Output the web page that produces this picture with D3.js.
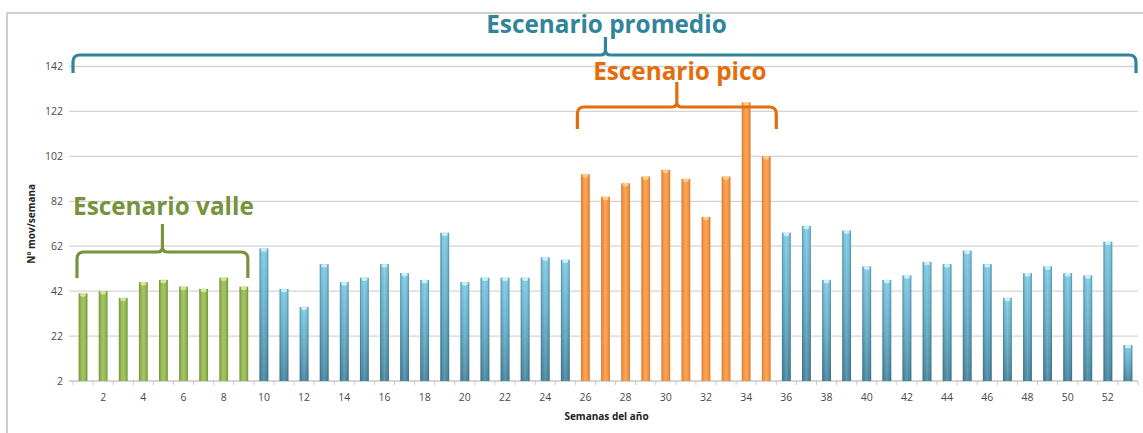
<!DOCTYPE html>
<html>
<head>
<meta charset="utf-8">
<script src="https://cdn.jsdelivr.net/npm/d3@7/dist/d3.min.js"></script>
<style>
  html, body { margin: 0; padding: 0; background: #ffffff; }
  svg { display: block; }
</style>
</head>
<body>
<svg id="chart" width="1143" height="433"></svg>
<script>
// Weekly movements per week of the year
const weeks = d3.range(1, 54);
const movements = [
  41, 42, 39, 46, 47, 44, 43, 48, 44, 61,
  43, 35, 54, 46, 48, 54, 50, 47, 68, 46,
  48, 48, 48, 57, 56, 94, 84, 90, 93, 96,
  92, 75, 93, 126, 102, 68, 71, 47, 69, 53,
  47, 49, 55, 54, 60, 54, 39, 50, 53, 50,
  49, 64, 18
];
const yTicks = [2, 22, 42, 62, 82, 102, 122, 142];
const xTickLabels = d3.range(2, 53, 2);

// Scenario groupings (first week, last week)
const valleWeeks = [1, 9];
const picoWeeks = [26, 35];
const promedioWeeks = [1, 53];

const scenarioOf = w =>
  (w >= valleWeeks[0] && w <= valleWeeks[1]) ? "valle" :
  (w >= picoWeeks[0] && w <= picoWeeks[1]) ? "pico" : "promedio";

const svg = d3.select("#chart");
const plot = { left: 73, right: 1138, top: 66.5, bottom: 381 };

// frame around the chart
svg.append("rect")
  .attr("x", 7).attr("y", 13)
  .attr("width", 1160).attr("height", 440)
  .attr("fill", "#ffffff")
  .attr("stroke", "#c4c4c4").attr("stroke-width", 1.6);

const x = d3.scaleBand()
  .domain(weeks)
  .range([plot.left, plot.right])
  .paddingInner(0.56)
  .paddingOuter(0.28);

const y = d3.scaleLinear()
  .domain([2, 142])
  .range([plot.bottom, plot.top]);

const step = x.step();
const bw = x.bandwidth();
const bandStart = w => x(w) - (step - bw) / 2;

// gradients
const defs = svg.append("defs");
function grad(id, vertical, stops) {
  const g = defs.append("linearGradient").attr("id", id)
    .attr("x1", "0%").attr("y1", "0%")
    .attr("x2", vertical ? "0%" : "100%").attr("y2", vertical ? "100%" : "0%");
  stops.forEach(s => g.append("stop")
    .attr("offset", s[0]).attr("stop-color", s[1])
    .attr("stop-opacity", s[2] === undefined ? 1 : s[2]));
}
grad("g-valle", false, [["0%", "#74923a"], ["25%", "#94b853"], ["50%", "#a4c566"], ["75%", "#94b853"], ["100%", "#74923a"]]);
grad("g-pico", false, [["0%", "#cf7b3c"], ["22%", "#f6923f"], ["50%", "#fba75c"], ["78%", "#f6923f"], ["100%", "#cf7b3c"]]);
grad("g-promedio", true, [["0%", "#82cde6"], ["45%", "#6bb3cd"], ["100%", "#4b8aa1"]]);
grad("g-shade", false, [["0%", "#1d3c4a", 0.4], ["22%", "#1d3c4a", 0.04], ["50%", "#ffffff", 0.12], ["78%", "#1d3c4a", 0.04], ["100%", "#1d3c4a", 0.4]]);

const capColor = { valle: "#d6eba0", pico: "#ffd38a", promedio: "#d2f3fc" };

// gridlines
svg.append("g")
  .selectAll("line")
  .data(yTicks)
  .join("line")
  .attr("x1", plot.left - 4).attr("x2", plot.right)
  .attr("y1", d => y(d)).attr("y2", d => y(d))
  .attr("stroke", d => d === 2 ? "#c8c8c8" : "#d4d4d4")
  .attr("stroke-width", 1.3);

// y axis labels
const yAxis = d3.axisLeft(y).tickValues(yTicks).tickSize(0).tickPadding(10);
svg.append("g")
  .attr("transform", `translate(${plot.left},0)`)
  .call(yAxis)
  .call(g => g.select(".domain").remove())
  .call(g => g.selectAll("text")
    .attr("font-family", "'Open Sans', sans-serif")
    .attr("font-size", 10.5)
    .attr("fill", "#4a4a4a"));

// x axis: tick marks at week boundaries, labels at even weeks
const xg = svg.append("g");
xg.selectAll("line.tick")
  .data(d3.range(0, weeks.length + 1))
  .join("line")
  .attr("class", "tick")
  .attr("x1", i => plot.left + i * step).attr("x2", i => plot.left + i * step)
  .attr("y1", plot.bottom).attr("y2", plot.bottom + 4)
  .attr("stroke", "#c8c8c8").attr("stroke-width", 1);
xg.selectAll("text")
  .data(xTickLabels)
  .join("text")
  .attr("x", d => x(d) + bw / 2)
  .attr("y", plot.bottom + 20)
  .attr("text-anchor", "middle")
  .attr("font-family", "'Open Sans', sans-serif")
  .attr("font-size", 10.5)
  .attr("fill", "#4a4a4a")
  .text(d => d);

// bars
const data = weeks.map((w, i) => ({ week: w, value: movements[i], scen: scenarioOf(w) }));
const bars = svg.append("g");
bars.selectAll("rect.bar")
  .data(data)
  .join("rect")
  .attr("class", "bar")
  .attr("x", d => x(d.week))
  .attr("y", d => y(d.value))
  .attr("width", bw)
  .attr("height", d => y(2) - y(d.value))
  .attr("fill", d => `url(#g-${d.scen})`);
bars.selectAll("rect.shade")
  .data(data.filter(d => d.scen === "promedio"))
  .join("rect")
  .attr("class", "shade")
  .attr("x", d => x(d.week))
  .attr("y", d => y(d.value))
  .attr("width", bw)
  .attr("height", d => y(2) - y(d.value))
  .attr("fill", "url(#g-shade)");
bars.selectAll("ellipse")
  .data(data)
  .join("ellipse")
  .attr("cx", d => x(d.week) + bw / 2)
  .attr("cy", d => y(d.value) + 1.5)
  .attr("rx", bw / 2 - 1.5)
  .attr("ry", 1.8)
  .attr("fill", d => capColor[d.scen])
  .attr("opacity", 0.9);

// axis titles
svg.append("text")
  .attr("x", (plot.left + plot.right) / 2 + 1)
  .attr("y", 420)
  .attr("text-anchor", "middle")
  .attr("font-family", "'Open Sans', sans-serif")
  .attr("font-weight", "bold")
  .attr("font-size", 10)
  .attr("fill", "#222")
  .text("Semanas del año");

svg.append("text")
  .attr("transform", `translate(35, ${y(72)}) rotate(-90)`)
  .attr("text-anchor", "middle")
  .attr("font-family", "'Open Sans', sans-serif")
  .attr("font-weight", "bold")
  .attr("font-size", 10)
  .attr("fill", "#222")
  .text("Nº mov/semana");

// curly-bracket annotations
function brace(x1, x2, xc, yLine, yEnd, yTip, color) {
  const r = 7;
  const p = d3.path();
  p.moveTo(x1, yEnd);
  p.lineTo(x1, yLine + r);
  p.quadraticCurveTo(x1, yLine, x1 + r, yLine);
  p.lineTo(xc - 5, yLine);
  p.quadraticCurveTo(xc, yLine, xc, yLine - 5);
  p.lineTo(xc, yTip);
  p.moveTo(xc, yLine - 5);
  p.quadraticCurveTo(xc, yLine, xc + 5, yLine);
  p.lineTo(x2 - r, yLine);
  p.quadraticCurveTo(x2, yLine, x2, yLine + r);
  p.lineTo(x2, yEnd);
  svg.append("path")
    .attr("d", p.toString())
    .attr("fill", "none")
    .attr("stroke", color)
    .attr("stroke-width", 3.2)
    .attr("stroke-linecap", "butt");
}
function label(txt, cx, by, color) {
  svg.append("text")
    .attr("x", cx).attr("y", by)
    .attr("text-anchor", "middle")
    .attr("font-family", "'Open Sans', sans-serif")
    .attr("font-weight", "bold")
    .attr("font-size", 24.3)
    .attr("fill", color)
    .text(txt);
}

const promedioColor = "#31849b", picoColor = "#e46c0a", valleColor = "#77933c";

// Escenario promedio spans the whole year
{
  const x1 = bandStart(promedioWeeks[0]);
  const x2 = bandStart(promedioWeeks[1]) + step - 2;
  const xc = bandStart(27) + 10;
  brace(x1, x2, xc, 55, 73, 37, promedioColor);
  label("Escenario promedio", xc + 1, 33, promedioColor);
}
// Escenario pico
{
  const x1 = bandStart(picoWeeks[0]) + 2;
  const x2 = bandStart(picoWeeks[1]) + step;
  const xc = (x1 + x2) / 2;
  brace(x1, x2, xc, 107, 129, 82, picoColor);
  label("Escenario pico", xc + 3, 80, picoColor);
}
// Escenario valle
{
  const x1 = bandStart(valleWeeks[0]) + 4;
  const x2 = bandStart(valleWeeks[1]) + step - 6;
  const xc = (x1 + x2) / 2;
  brace(x1, x2, xc, 252, 278, 224, valleColor);
  label("Escenario valle", xc + 1, 215, valleColor);
}
</script>
</body>
</html>
